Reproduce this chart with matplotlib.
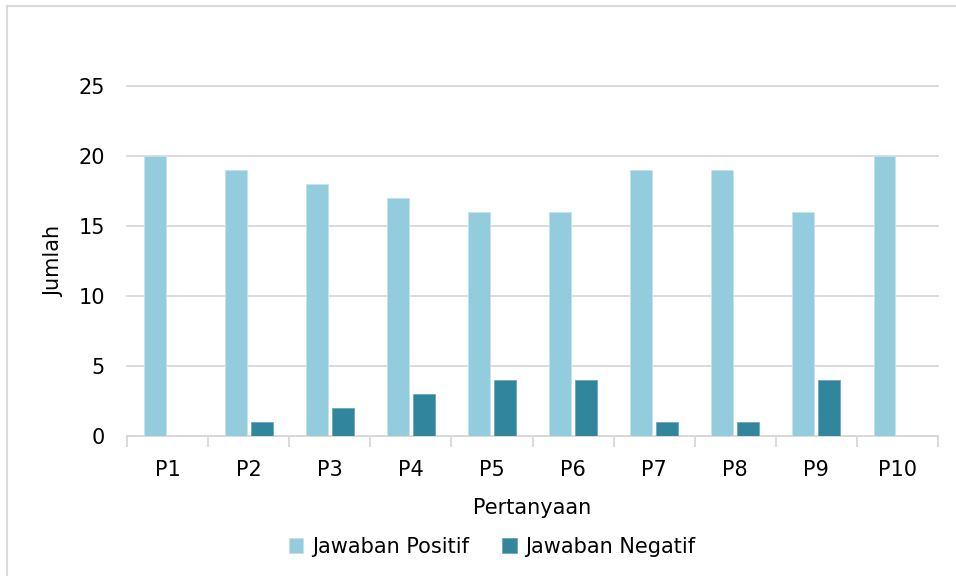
import matplotlib.pyplot as plt
import numpy as np
from matplotlib.lines import Line2D

# data
pertanyaan = ['P1', 'P2', 'P3', 'P4', 'P5', 'P6', 'P7', 'P8', 'P9', 'P10']
positif = [20, 19, 18, 17, 16, 16, 19, 19, 16, 20]
negatif = [0, 1, 2, 3, 4, 4, 1, 1, 4, 0]

c_pos = '#93CDDD'
c_neg = '#31859C'
grid_c = '#D9D9D9'

plt.rcParams['font.family'] = ['DejaVu Sans']

fig = plt.figure(figsize=(9.56, 5.76), dpi=100)
ax = fig.add_axes([127 / 956, 1 - 436 / 576, (938 - 127) / 956, (436 - 86) / 576])

x = np.arange(len(pertanyaan))
w = 0.27
gap = 0.05
ax.bar(x - (w + gap) / 2, positif, w, color=c_pos, edgecolor='#C5E3EC', linewidth=0.6,
       label='Jawaban Positif', zorder=3)
ax.bar(x + (w + gap) / 2, negatif, w, color=c_neg, edgecolor='#6AA8B9', linewidth=0.6,
       label='Jawaban Negatif', zorder=3)

ax.set_xlim(-0.5, len(pertanyaan) - 0.5)
ax.set_ylim(0, 25)
ax.set_yticks([0, 5, 10, 15, 20, 25])
ax.yaxis.grid(True, color=grid_c, linewidth=1.3, zorder=0)
for gl in ax.get_ygridlines():
    gl.set_clip_on(False)
ax.set_axisbelow(True)

ax.set_xticks(x)
ax.set_xticklabels(pertanyaan)
ax.set_xticks(np.arange(-0.5, len(pertanyaan)), minor=True)
ax.tick_params(axis='x', which='major', length=0, pad=17, labelsize=15)
ax.tick_params(axis='x', which='minor', length=8, width=1.3, color=grid_c)
ax.tick_params(axis='y', length=0, pad=16, labelsize=15)

for s in ['top', 'right', 'left']:
    ax.spines[s].set_visible(False)
ax.spines['bottom'].set_color(grid_c)
ax.spines['bottom'].set_linewidth(1.3)

ax.set_xlabel('Pertanyaan', fontsize=15, labelpad=13)
ax.set_ylabel('Jumlah', fontsize=15, labelpad=10)

ax.legend(loc='upper center', bbox_to_anchor=(0.45, -0.235), ncol=2, frameon=False,
          fontsize=15, handlelength=0.7, handleheight=0.7, handletextpad=0.4,
          columnspacing=1.6)

# chart area border (only top and left visible in the crop)
fig.add_artist(Line2D([7 / 956, 1], [1 - 6 / 576, 1 - 6 / 576], transform=fig.transFigure,
                      color=grid_c, linewidth=1.5))
fig.add_artist(Line2D([7 / 956, 7 / 956], [0, 1 - 6 / 576], transform=fig.transFigure,
                      color=grid_c, linewidth=1.5))

fig.savefig('out.png', dpi=100)
